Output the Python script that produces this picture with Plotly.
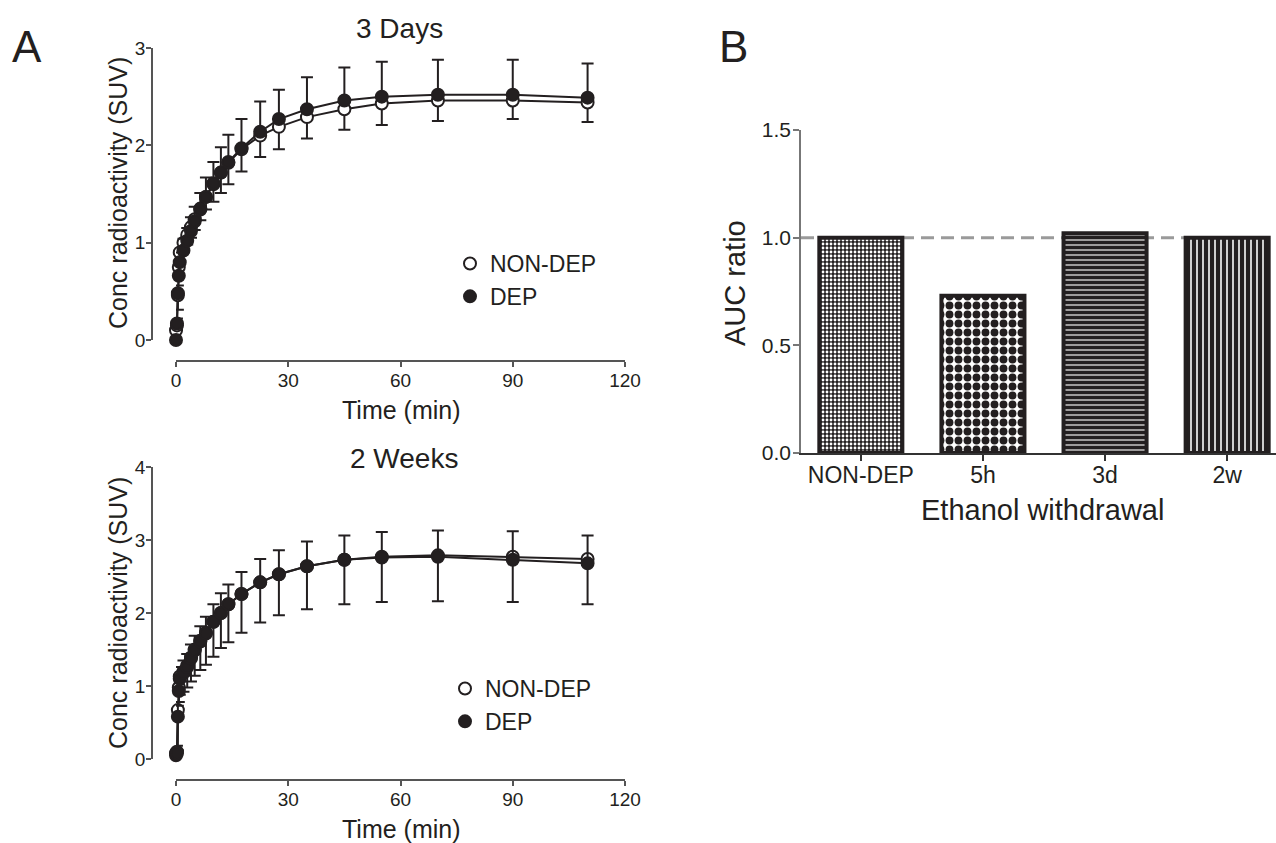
import plotly.graph_objects as go

W, H = 1276, 843
INK = "#231f20"
FONT = "Liberation Sans, Arial, sans-serif"

# ---------------- data ----------------
times = [0, 0.25, 0.5, 0.75, 1, 2, 3, 4, 5, 6.5, 8, 10, 12, 14, 17.5, 22.5, 27.5, 35, 45, 55, 70, 90, 110]

d3_nondep = [0.10, 0.15, 0.46, 0.75, 0.90, 1.00, 1.08, 1.16, 1.24, 1.35, 1.47, 1.60, 1.72, 1.82, 1.96, 2.10, 2.19, 2.29, 2.37, 2.43, 2.46, 2.46, 2.44]
d3_dep = [0.00, 0.17, 0.48, 0.66, 0.80, 0.92, 1.02, 1.12, 1.22, 1.34, 1.47, 1.61, 1.72, 1.83, 1.97, 2.14, 2.27, 2.37, 2.46, 2.50, 2.52, 2.52, 2.49]
d3_dep_err_up = [0.00, 0.05, 0.08, 0.10, 0.10, 0.12, 0.13, 0.14, 0.15, 0.17, 0.20, 0.22, 0.26, 0.28, 0.30, 0.31, 0.30, 0.33, 0.34, 0.36, 0.36, 0.36, 0.35]
d3_nondep_err_down = [0.00, 0.05, 0.15, 0.10, 0.10, 0.10, 0.10, 0.11, 0.11, 0.12, 0.13, 0.18, 0.21, 0.22, 0.23, 0.22, 0.23, 0.22, 0.21, 0.22, 0.21, 0.19, 0.20]

w2_nondep = [0.08, 0.10, 0.67, 0.98, 1.13, 1.20, 1.28, 1.39, 1.50, 1.62, 1.73, 1.88, 2.00, 2.12, 2.26, 2.42, 2.53, 2.64, 2.73, 2.77, 2.79, 2.77, 2.74]
w2_dep = [0.05, 0.08, 0.58, 0.93, 1.10, 1.18, 1.26, 1.38, 1.49, 1.61, 1.72, 1.88, 2.00, 2.12, 2.26, 2.42, 2.53, 2.64, 2.73, 2.76, 2.77, 2.73, 2.68]
w2_dep_err_up = [0.05, 0.10, 0.15, 0.15, 0.16, 0.17, 0.18, 0.19, 0.20, 0.21, 0.23, 0.24, 0.27, 0.27, 0.30, 0.32, 0.33, 0.34, 0.33, 0.35, 0.36, 0.39, 0.38]
w2_nondep_err_down = [0.05, 0.05, 0.55, 0.20, 0.25, 0.28, 0.30, 0.33, 0.36, 0.40, 0.44, 0.48, 0.48, 0.52, 0.53, 0.55, 0.56, 0.59, 0.61, 0.62, 0.63, 0.62, 0.62]

x_ticks = [0, 30, 60, 90, 120]

bar_cats = ["NON-DEP", "5h", "3d", "2w"]
bar_vals = [1.0, 0.73, 1.02, 1.0]
ref_level = 1.0

# bar fill styles
bar_patterns = [".", ".", "-", "|"]
bar_pat_size = [4, 9, 5, 6]
bar_pat_solid = [0.4, 0.6, 0.78, 0.74]
bar_pat_fg = ["white", INK, INK, INK]
bar_pat_bg = [INK, "white", "white", "white"]

# ---------------- helpers ----------------
def px_x(p):
    return p / W

def px_y(p):
    return (H - p) / H

fig = go.Figure()

def add_panel(xa, ya, nondep, dep, dep_up, nondep_down, legend):
    for ys in (nondep, dep):
        fig.add_trace(go.Scatter(x=times, y=ys, mode="lines", xaxis=xa, yaxis=ya,
                                 line=dict(color=INK, width=2), showlegend=False,
                                 hoverinfo="skip", cliponaxis=False))
    fig.add_trace(go.Scatter(
        x=times, y=nondep, mode="markers", name="NON-DEP", xaxis=xa, yaxis=ya,
        marker=dict(symbol="circle", size=12, color="white", line=dict(color=INK, width=2)),
        error_y=dict(type="data", symmetric=False, array=[0] * len(times), arrayminus=nondep_down,
                     color=INK, thickness=2, width=6),
        legend=legend, cliponaxis=False))
    fig.add_trace(go.Scatter(
        x=times, y=dep, mode="markers", name="DEP", xaxis=xa, yaxis=ya,
        marker=dict(symbol="circle", size=12, color=INK, line=dict(color=INK, width=2)),
        error_y=dict(type="data", symmetric=False, array=dep_up, arrayminus=[0] * len(times),
                     color=INK, thickness=2, width=6),
        legend=legend, cliponaxis=False))

add_panel("x", "y", d3_nondep, d3_dep, d3_dep_err_up, d3_nondep_err_down, "legend")
add_panel("x2", "y2", w2_nondep, w2_dep, w2_dep_err_up, w2_nondep_err_down, "legend2")

fig.add_trace(go.Bar(
    x=bar_cats, y=bar_vals, xaxis="x3", yaxis="y3", showlegend=False,
    marker=dict(color="white", line=dict(color=INK, width=4),
                pattern=dict(shape=bar_patterns, fgcolor=bar_pat_fg, bgcolor=bar_pat_bg,
                             size=bar_pat_size, solidity=bar_pat_solid,
                             fillmode="replace", fgopacity=1))))

axis_common = dict(showgrid=False, zeroline=False, showline=True, linecolor="#555", linewidth=1.5,
                   ticks="outside", ticklen=5, tickwidth=1.5, tickcolor="#555", automargin=False,
                   tickfont=dict(family=FONT, size=19, color=INK))
xa_extra = dict(ticklabelstandoff=-3)
ya_extra = dict(ticklabelstandoff=-3)

legend_common = dict(xanchor="left", yanchor="top", font=dict(family=FONT, size=23, color=INK),
                     bgcolor="rgba(0,0,0,0)", traceorder="normal", itemwidth=30)

fig.update_layout(
    width=W, height=H, margin=dict(l=0, r=0, t=0, b=0, pad=0, autoexpand=False),
    paper_bgcolor="white", plot_bgcolor="rgba(0,0,0,0)",
    font=dict(family=FONT, color=INK),
    bargap=0.32,
    xaxis=dict(domain=[px_x(176), px_x(625)], range=[0, 120], tickvals=x_ticks,
               anchor="free", position=px_y(361), **axis_common, **xa_extra),
    yaxis=dict(domain=[px_y(340), px_y(48)], range=[0, 3], tickvals=[0, 1, 2, 3],
               anchor="free", position=px_x(152), **axis_common, **ya_extra),
    xaxis2=dict(domain=[px_x(176), px_x(625)], range=[0, 120], tickvals=x_ticks,
                anchor="free", position=px_y(780), **axis_common, **xa_extra),
    yaxis2=dict(domain=[px_y(759), px_y(467)], range=[0, 4], tickvals=[0, 1, 2, 3, 4],
                anchor="free", position=px_x(152), **axis_common, **ya_extra),
    xaxis3=dict(domain=[px_x(801), 1.0], range=[-0.49, 3.4], anchor="y3", automargin=False,
                showgrid=False, zeroline=False, showline=True, linecolor="#333", linewidth=1.5,
                ticks="outside", ticklen=6, tickwidth=1.5, tickcolor="#333", ticklabelstandoff=-5,
                tickfont=dict(family=FONT, size=23, color=INK)),
    yaxis3=dict(domain=[px_y(453), px_y(130)], range=[0, 1.5], tickvals=[0, 0.5, 1.0, 1.5],
                tickformat=".1f", anchor="x3", automargin=False,
                showgrid=False, zeroline=False, showline=True, linecolor="#777", linewidth=1.5,
                ticks="outside", ticklen=6, tickwidth=1.5, tickcolor="#777", ticklabelstandoff=-2,
                tickfont=dict(family=FONT, size=21, color=INK)),
    legend=dict(x=px_x(450), y=px_y(242), **legend_common),
    legend2=dict(x=px_x(445), y=px_y(667), **legend_common),
    shapes=[dict(type="line", xref="x3", yref="y3", x0=-0.49, x1=3.35, y0=ref_level, y1=ref_level,
                 line=dict(color="#9a9a9a", width=3, dash="13px,7px"), layer="below")],
)

ann = [
    dict(text="A", x=px_x(27), y=px_y(46), font=dict(size=44)),
    dict(text="B", x=px_x(733), y=px_y(46), font=dict(size=44)),
    dict(text="3 Days", x=px_x(399), y=px_y(28), font=dict(size=28)),
    dict(text="2 Weeks", x=px_x(404), y=px_y(458), font=dict(size=28)),
    dict(text="Time (min)", x=px_x(401), y=px_y(410), font=dict(size=25)),
    dict(text="Time (min)", x=px_x(401), y=px_y(829), font=dict(size=25)),
    dict(text="Conc radioactivity (SUV)", x=px_x(118), y=px_y(193), textangle=-90, font=dict(size=25)),
    dict(text="Conc radioactivity (SUV)", x=px_x(118), y=px_y(613), textangle=-90, font=dict(size=25)),
    dict(text="AUC ratio", x=px_x(735), y=px_y(283), textangle=-90, font=dict(size=29)),
    dict(text="Ethanol withdrawal", x=px_x(1042), y=px_y(510), font=dict(size=29)),
]
for a in ann:
    a.update(xref="paper", yref="paper", showarrow=False, xanchor="center", yanchor="middle")
    a["font"].update(family=FONT, color=INK)
fig.update_layout(annotations=ann)

fig.write_html("out.html", config={"displayModeBar": False},
               post_script="document.body.style.margin='0';document.body.style.overflow='hidden';")
